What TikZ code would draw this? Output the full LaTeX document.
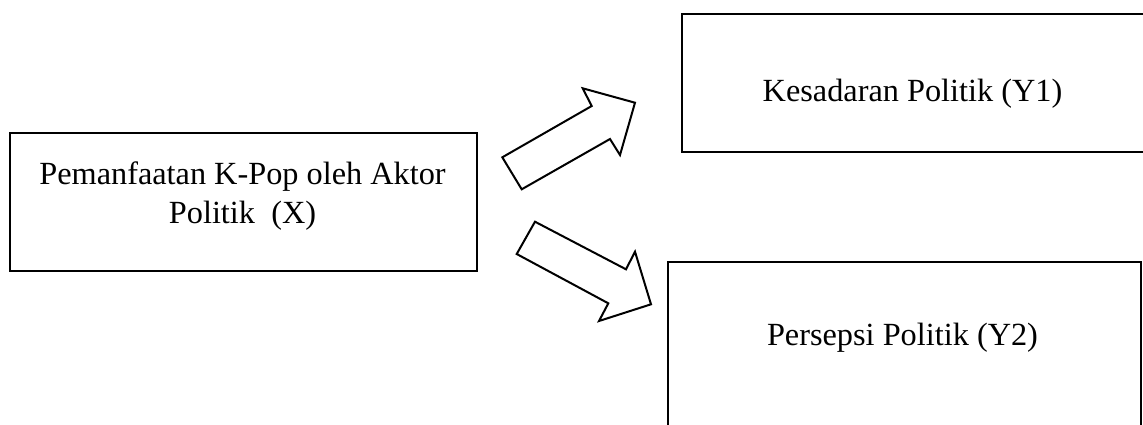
\documentclass[tikz,border=0pt]{standalone}
\usepackage{fontspec}
\setmainfont{Liberation Serif}
\begin{document}
\begin{tikzpicture}[x=1pt,y=-1pt,
  frame/.style={draw=black,line width=2.3pt,inner sep=0pt,fill=none},
  lbl/.style={anchor=base,inner sep=0pt,font=\fontsize{32.3}{38}\selectfont},
  blockarrow/.style={draw=black,line width=2pt,line join=miter,fill=white}]
\useasboundingbox (0,0) rectangle (1143,424);
\begin{scope}
\clip (0,0) rectangle (1143,424);
% boxes
\node[frame,minimum width=467pt,minimum height=138pt] (bx) at (243.5,202) {};
\node[frame,minimum width=466pt,minimum height=138pt] (by1) at (915,83) {};
\node[frame,minimum width=473pt,minimum height=180pt] (by2) at (904.5,352) {};
% texts
\node[lbl] (tx1) at (242.5,184) {Pemanfaatan K-Pop oleh Aktor};
\node[lbl] (tx2) at (242.5,223) {Politik~~(X)};
\node[lbl] (ty1) at (912.5,101) {Kesadaran Politik (Y1)};
\node[lbl] (ty2) at (902.5,345) {Persepsi Politik (Y2)};
% block arrows
\draw[blockarrow] (502.3,157.3) -- (591.7,106) -- (582.7,88.3) -- (635,102.7)
  -- (620,155) -- (610,139) -- (521.7,189.3) -- cycle;
\draw[blockarrow] (535,221.7) -- (626,269.3) -- (635,251.7) -- (651,304.3)
  -- (599,321) -- (608.3,303.3) -- (516.7,254) -- cycle;
\end{scope}
\end{tikzpicture}
\end{document}
